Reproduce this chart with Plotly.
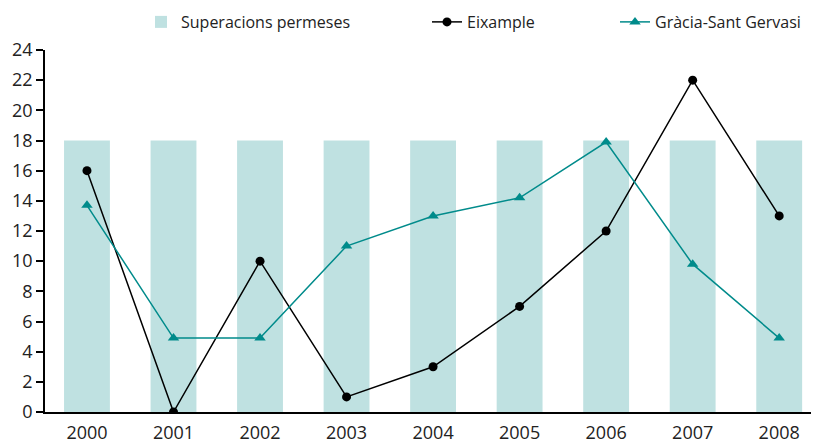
import plotly.graph_objects as go

years = ["2000", "2001", "2002", "2003", "2004", "2005", "2006", "2007", "2008"]
permeses = [18, 18, 18, 18, 18, 18, 18, 18, 18]
eixample = [16, 0, 10, 1, 3, 7, 12, 22, 13]
gracia = [13.7, 4.9, 4.9, 11, 13, 14.2, 17.9, 9.8, 4.9]

W, H = 811, 437  # page body adds an 8px margin

fig = go.Figure()
fig.add_trace(go.Bar(x=years, y=permeses, name="Superacions permeses",
                     marker=dict(color="#bfe1e1", line=dict(width=0)), width=0.53,
                     legend="legend"))
fig.add_trace(go.Scatter(x=years, y=eixample, name="Eixample", mode="lines+markers",
                         line=dict(color="#000000", width=1.5),
                         marker=dict(symbol="circle", size=9, color="#000000"),
                         legend="legend2"))
fig.add_trace(go.Scatter(x=years, y=gracia, name="Gràcia-Sant Gervasi", mode="lines+markers",
                         line=dict(color="#008b8b", width=1.5),
                         marker=dict(symbol="triangle-up", size=10, color="#008b8b"),
                         legend="legend3"))

leg_common = dict(orientation="h", yref="container", y=0.968, xref="container",
                  xanchor="left", yanchor="middle", font=dict(size=16), itemwidth=30,
                  bgcolor="rgba(0,0,0,0)")

fig.update_layout(
    width=W, height=H,
    margin=dict(l=37, r=0, t=42, b=33, autoexpand=False),
    paper_bgcolor="white", plot_bgcolor="white",
    font=dict(family="Open Sans, Noto Sans, sans-serif", size=18, color="#222222"),
    showlegend=True,
    legend=dict(x=133 / W, **leg_common),
    legend2=dict(x=419 / W, **leg_common),
    legend3=dict(x=607 / W, **leg_common),
    bargap=0.47,
    xaxis=dict(type="category", range=[-0.485, 8.46], showline=True, linecolor="#000000",
               linewidth=1.5, ticks="", showgrid=False, zeroline=False,
               ticklabelstandoff=4, tickfont=dict(size=18)),
    yaxis=dict(range=[0, 24], dtick=2, showline=True, linecolor="#000000", linewidth=1.5,
               ticks="outside", ticklen=7, tickcolor="#000000", tickwidth=1.5,
               showgrid=False, zeroline=False, tickfont=dict(size=18)),
)

fig.write_html("out.html")
